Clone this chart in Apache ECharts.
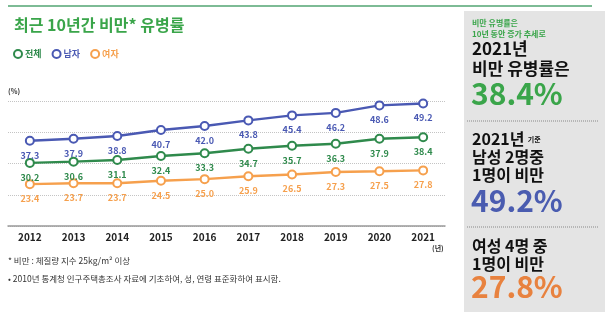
<!DOCTYPE html>
<html>
<head>
<meta charset="utf-8">
<script src="https://cdn.jsdelivr.net/npm/echarts@6/dist/echarts.min.js"></script>
<style>
    html, body { margin: 0; padding: 0; background: #fff; }
    #chart { width: 605px; height: 317px; }
</style>
</head>
<body>
<div id="chart"></div>
<script>
// 연도별 비만 유병률 (%)
const years = ['2012', '2013', '2014', '2015', '2016', '2017', '2018', '2019', '2020', '2021'];
const total = [30.2, 30.6, 31.1, 32.4, 33.3, 34.7, 35.7, 36.3, 37.9, 38.4];
const male = [37.3, 37.9, 38.8, 40.7, 42.0, 43.8, 45.4, 46.2, 48.6, 49.2];
const female = [23.4, 23.7, 23.7, 24.5, 25.0, 25.9, 26.5, 27.3, 27.5, 27.8];
const seriesNames = ['전체', '남자', '여자'];

const GREEN = '#2f8a4c';
const BLUE = '#4a59b3';
const ORANGE = '#f6a04d';
const colors = [GREEN, BLUE, ORANGE];
const FONT = '"Noto Sans CJK KR", "Noto Sans", sans-serif';

const chart = echarts.init(document.getElementById('chart'));

function lineSeries(name, data, color) {
    return {
        name: name,
        type: 'line',
        data: data,
        symbol: 'emptyCircle',
        symbolSize: 8,
        lineStyle: { color: color, width: 2.5 },
        itemStyle: { color: color, borderColor: color, borderWidth: 2 },
        label: {
            show: true,
            position: 'bottom',
            distance: 5,
            color: color,
            fontSize: 9,
            fontWeight: 'bold',
            fontFamily: FONT,
            formatter: p => p.value.toFixed(1)
        },
        animation: false
    };
}

const option = {
    textStyle: { fontFamily: FONT },
    title: {
        text: '최근 10년간 비만* 유병률',
        left: 9,
        top: 12,
        textStyle: { color: '#3aa54a', fontSize: 16, fontWeight: 'bold', fontFamily: FONT }
    },
    legend: {
        data: seriesNames.map((n, i) => ({ name: n, textStyle: { color: colors[i] } })),
        left: 8,
        top: 44,
        icon: 'emptyCircle',
        itemWidth: 8,
        itemHeight: 8,
        itemGap: 10,
        textStyle: { fontSize: 9, fontWeight: 'bold', fontFamily: FONT, padding: [0, 0, 0, -2] }
    },
    grid: { left: 8, right: 160, top: 101, bottom: 91, containLabel: false },
    xAxis: {
        type: 'category',
        data: years,
        boundaryGap: true,
        axisLine: { lineStyle: { color: '#999', width: 1.5 } },
        axisTick: { show: false },
        axisLabel: { color: '#222', fontSize: 10, fontWeight: 'bold', margin: 6, fontFamily: FONT }
    },
    yAxis: {
        type: 'value',
        min: 10,
        max: 50,
        interval: 10,
        axisLine: { show: false },
        axisTick: { show: false },
        axisLabel: { show: false },
        splitLine: { lineStyle: { color: '#c4c4c4', type: 'dotted', width: 1 } }
    },
    series: [
        lineSeries(seriesNames[0], total, GREEN),
        lineSeries(seriesNames[1], male, BLUE),
        lineSeries(seriesNames[2], female, ORANGE)
    ],
    graphic: [
        { type: 'rect', shape: { x: 8, y: 5, width: 584, height: 2 }, style: { fill: '#7dbb95' } },
        { type: 'text', left: 8, top: 88, style: { text: '(%)', fontSize: 7, fontWeight: 'bold', fill: '#333', fontFamily: FONT } },
        { type: 'text', left: 432, top: 245, style: { text: '(년)', fontSize: 7, fontWeight: 'bold', fill: '#333', fontFamily: FONT } },
        { type: 'text', left: 8, top: 257, style: { text: '* 비만 : 체질량 지수 25kg/m² 이상', fontSize: 8.5, fill: '#333', fontFamily: FONT } },
        { type: 'text', left: 8, top: 275, style: { text: '• 2010년 통계청 인구주택총조사 자료에 기초하여, 성, 연령 표준화하여 표시함.', fontSize: 8.5, fill: '#333', fontFamily: FONT } },

        // 오른쪽 요약 패널
        { type: 'rect', shape: { x: 464, y: 11, width: 141, height: 301 }, style: { fill: '#e4e4e4' } },
        { type: 'text', left: 472, top: 17, style: { text: '비만 유병률은\n10년 동안 증가 추세로', fontSize: 8, lineHeight: 11, fontWeight: 'bold', fill: '#3aa54a', fontFamily: FONT } },
        { type: 'text', left: 472, top: 39, style: { text: '2021년\n비만 유병률은', fontSize: 17, lineHeight: 20, fontWeight: 'bold', fill: '#111', fontFamily: FONT } },
        { type: 'text', left: 471, top: 79, style: { text: '38.4%', fontSize: 30, fontWeight: 'bold', fill: '#3aa54a', fontFamily: FONT } },
        { type: 'line', shape: { x1: 467, y1: 121, x2: 598, y2: 121 }, style: { stroke: '#888', lineWidth: 1, lineDash: [1, 1] } },
        { type: 'text', left: 472, top: 131, style: {
            text: '{b|2021년} {s|기준}\n{b|남성 2명중}\n{b|1명이 비만}',
            rich: {
                b: { fontSize: 16, fontWeight: 'bold', fill: '#111', lineHeight: 18, fontFamily: FONT },
                s: { fontSize: 7, fontWeight: 'bold', fill: '#111', lineHeight: 18, fontFamily: FONT }
            }
        } },
        { type: 'text', left: 471, top: 186, style: { text: '49.2%', fontSize: 30, fontWeight: 'bold', fill: '#4a5cb0', fontFamily: FONT } },
        { type: 'line', shape: { x1: 467, y1: 227, x2: 598, y2: 227 }, style: { stroke: '#888', lineWidth: 1, lineDash: [1, 1] } },
        { type: 'text', left: 472, top: 237, style: { text: '여성 4명 중\n1명이 비만', fontSize: 16, lineHeight: 18, fontWeight: 'bold', fill: '#111', fontFamily: FONT } },
        { type: 'text', left: 471, top: 272, style: { text: '27.8%', fontSize: 30, fontWeight: 'bold', fill: '#e8823f', fontFamily: FONT } }
    ],
    animation: false
};

chart.setOption(option);
</script>
</body>
</html>
